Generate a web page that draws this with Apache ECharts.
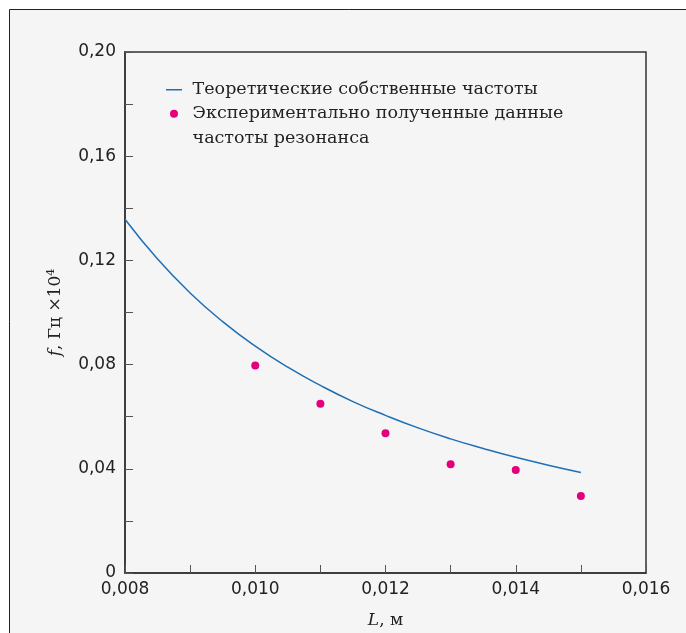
<!DOCTYPE html>
<html>
<head>
<meta charset="utf-8">
<script src="https://cdn.jsdelivr.net/npm/echarts@6/dist/echarts.min.js"></script>
<style>
  html, body { margin: 0; padding: 0; background: #fff; }
  #chart { width: 686px; height: 633px; }
</style>
</head>
<body>
<div id="chart"></div>
<script>
// theoretical curve
const theoryL = [0.008, 0.0085, 0.009, 0.0095, 0.010, 0.0105, 0.011, 0.0115, 0.012, 0.0125, 0.013, 0.0135, 0.014, 0.0145, 0.015];
const theoryF = [0.1358, 0.1205, 0.1075, 0.0965, 0.0871, 0.079, 0.072, 0.0658, 0.0605, 0.0557, 0.0515, 0.0478, 0.0444, 0.0414, 0.0386];

// experimental points
const expL = [0.010, 0.011, 0.012, 0.013, 0.014, 0.015];
const expF = [0.0797, 0.065, 0.0536, 0.0417, 0.0395, 0.0296];

const theoryName = 'Теоретические собственные частоты';
const expName = 'Экспериментально полученные данные\nчастоты резонанса';

const chartDom = document.getElementById('chart');
const myChart = echarts.init(chartDom);

const labelFont = 'DejaVu Sans';
const textFont = 'DejaVu Serif';

// thin horizontal dash in a 16x8 box (tiny corner specks keep the box size)
const dashIcon = 'path://M0,0H0.01V0.01H0ZM0,3.25H16V4.75H0ZM15.99,7.99H16V8H15.99Z';

const option = {
    backgroundColor: '#fff',
    animation: false,
    graphic: [{
        type: 'rect',
        shape: { x: 9.5, y: 9.5, width: 700, height: 650 },
        style: { fill: '#f5f5f5', stroke: '#222', lineWidth: 1 },
        z: -10
    }],
    grid: {
        left: 125, top: 52, width: 521, height: 521,
        outerBoundsMode: 'none',
        show: true, borderColor: '#333', borderWidth: 1.5, backgroundColor: 'transparent'
    },
    legend: {
        orient: 'vertical',
        left: 166,
        top: 77,
        padding: 0,
        itemWidth: 16,
        itemHeight: 8,
        itemGap: -25,
        textStyle: { fontFamily: textFont, fontSize: 17.5, color: '#222', lineHeight: 24.5 },
        formatter: name => name === expName
            ? '\n' + name.split('\n').map(s => ' ' + s).join('\n')
            : ' ' + name,
        data: [
            { name: theoryName, icon: dashIcon },
            { name: expName, icon: 'circle' }
        ]
    },
    xAxis: {
        type: 'value',
        min: 0.008,
        max: 0.016,
        interval: 0.001,
        name: '{i|L}, м',
        nameLocation: 'middle',
        nameGap: 39,
        nameTextStyle: {
            fontFamily: textFont, fontSize: 17, color: '#222',
            rich: { i: { fontFamily: textFont, fontSize: 17, fontStyle: 'italic', color: '#222' } }
        },
        splitLine: { show: false },
        axisLine: { lineStyle: { color: '#333', width: 1.5 } },
        axisTick: { inside: true, length: 8, lineStyle: { color: '#555' } },
        axisLabel: {
            fontFamily: labelFont, fontSize: 17, color: '#222', margin: 8,
            formatter: v => Math.round(v * 1000) % 2 ? '' : v.toFixed(3).replace('.', ',')
        }
    },
    yAxis: {
        type: 'value',
        min: 0,
        max: 0.2,
        interval: 0.02,
        name: '{i|f}, Гц ×10{s|4}',
        nameLocation: 'middle',
        nameGap: 60,
        nameTextStyle: {
            fontFamily: textFont, fontSize: 17, color: '#222',
            rich: {
                i: { fontFamily: textFont, fontSize: 17, fontStyle: 'italic', color: '#222' },
                s: { fontFamily: textFont, fontSize: 11, color: '#222', verticalAlign: 'top', padding: [0, 0, 8, 0] }
            }
        },
        splitLine: { show: false },
        axisLine: { show: true, lineStyle: { color: '#333', width: 1.5 } },
        axisTick: { show: true, inside: true, length: 8, lineStyle: { color: '#555' } },
        axisLabel: {
            fontFamily: labelFont, fontSize: 17, color: '#222', margin: 9,
            formatter: v => {
                if (v === 0) return '0';
                return Math.round(v * 100) % 4 ? '' : v.toFixed(2).replace('.', ',');
            }
        }
    },
    series: [
        {
            name: theoryName,
            type: 'line',
            smooth: true,
            symbol: 'none',
            lineStyle: { color: '#1f6fb5', width: 1.5 },
            itemStyle: { color: '#1f6fb5' },
            data: theoryL.map((l, i) => [l, theoryF[i]])
        },
        {
            name: expName,
            type: 'scatter',
            symbolSize: 8,
            itemStyle: { color: '#e4007c', opacity: 1 },
            data: expL.map((l, i) => [l, expF[i]])
        }
    ]
};

option && myChart.setOption(option);
</script>
</body>
</html>
